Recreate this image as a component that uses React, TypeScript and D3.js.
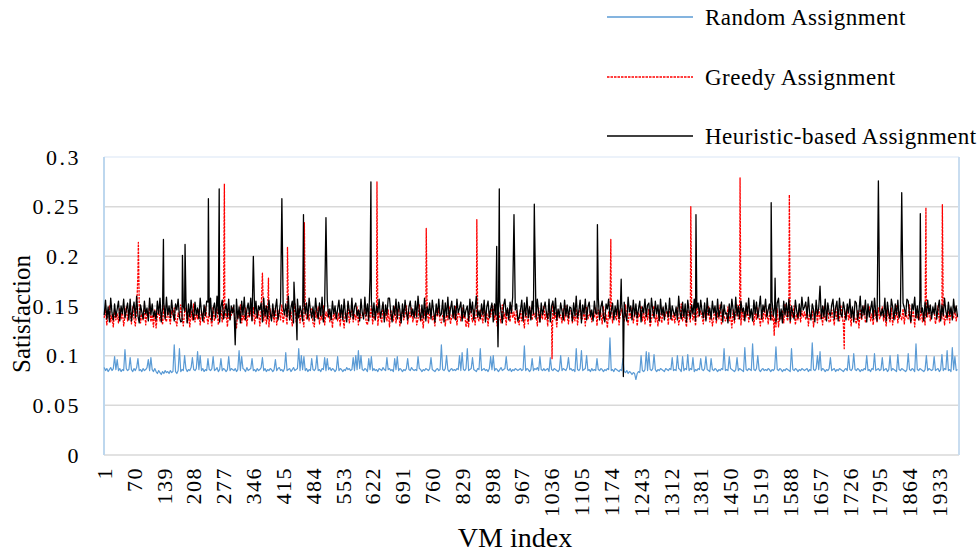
import React from "react";
import * as d3 from "d3";

// ---- categories ----
const VM_COUNT = 1978;
const SAMPLE_STEP = 3; // base samples read at VM 1, 4, 7, ... (values in thousandths)
const xTickLabels = [1, 70, 139, 208, 277, 346, 415, 484, 553, 622, 691, 760, 829, 898, 967, 1036, 1105, 1174, 1243, 1312, 1381, 1450, 1519, 1588, 1657, 1726, 1795, 1864, 1933];
const yTickValues = [0, 0.05, 0.1, 0.15, 0.2, 0.25, 0.3];
const yTickLabels = ["0", "0.05", "0.1", "0.15", "0.2", "0.25", "0.3"];
const seriesNames = ["Random Assignment", "Greedy Assignment", "Heuristic-based Assignment"];

// ---- Random Assignment (satisfaction x 1000) ----
const randomMilli = [
  88,85,87,84,86,88,85,87,99,86, 96,85,87,84,86,85,106,87,85,86,
  98,86,84,87,85,88,97,85,86,84, 87,85,86,88,96,85,98,86,84,87,
  84,82,85,83,81,84,82,85,83,84, 82,85,83,84,111,84,82,85,107,84,
  86,85,100,87,84,86,85,88,98,86, 85,87,104,86,100,85,87,84,86,85,
  97,86,85,87,99,85,86,88,84,86, 97,85,87,86,84,86,99,85,87,86,
  85,87,84,86,105,85,99,87,86,84, 88,85,86,87,97,85,86,84,87,85,
  86,88,98,85,87,84,86,85,87,86, 84,86,96,85,87,88,85,86,84,87,
  103,85,86,87,84,86,88,85,86,87, 107,85,100,86,99,85,87,84,86,85,
  97,86,85,87,100,85,86,84,87,86, 98,85,97,86,88,85,87,86,84,86,
  99,85,87,86,84,86,85,88,86,87, 85,86,98,85,100,86,105,87,100,86,
  85,87,86,84,97,86,99,85,87,85, 86,84,87,86,85,88,86,85,98,86,
  87,85,86,84,97,86,99,85,87,86, 84,86,85,87,97,86,85,88,86,85,
  86,85,99,87,86,84,86,85,87,86, 85,87,98,86,85,84,86,87,85,86,
  111,86,85,87,100,86,84,86,87,85, 86,85,87,86,100,85,103,86,85,87,
  107,85,86,87,98,86,85,84,87,86, 107,85,86,87,85,86,84,87,99,86,
  100,85,87,86,84,86,88,85,86,87, 99,86,85,87,84,86,85,87,86,85,
  86,87,85,86,110,85,87,86,84,86, 97,85,87,86,88,85,99,86,85,87,
  85,86,87,84,98,86,85,87,86,85, 84,86,100,85,87,86,85,88,98,86,
  87,85,86,84,107,86,85,87,105,85, 86,87,100,85,86,84,87,85,86,85,
  97,86,85,87,86,84,86,85,87,86, 118,85,86,84,87,86,85,84,86,85,
  97,84,83,85,82,84,83,81,83,82, 76,82,84,83,100,85,84,86,104,85,
  103,86,85,87,101,86,84,86,85,87, 86,85,84,87,86,85,87,86,98,85,
  86,85,100,87,86,84,99,85,87,86, 101,85,87,86,98,84,86,85,87,86,
  97,86,85,87,99,86,85,84,97,86, 85,87,86,84,86,85,87,86,107,85,
  86,85,99,87,86,85,84,86,98,85, 87,86,85,84,108,86,85,87,86,85,
  112,86,85,87,100,86,84,86,87,85, 86,85,87,86,84,86,85,87,109,86,
  85,87,86,84,86,85,87,86,85,84, 107,86,85,87,86,84,86,85,87,86,
  85,86,87,84,86,85,113,86,85,87, 100,86,104,85,87,86,84,86,85,87,
  98,85,86,87,84,86,85,87,86,85, 84,86,87,85,100,86,85,87,102,86,
  85,87,86,84,86,85,87,86,100,85, 86,84,87,86,102,85,86,87,85,86,
  98,85,86,87,84,86,100,85,87,86, 85,84,101,86,85,87,86,85,84,86,
  102,86,85,87,86,84,112,86,85,87, 86,85,84,86,100,85,87,86,85,86,
  99,85,86,87,84,86,101,85,87,86, 105,85,86,84,108,86,99,85,86,
];

// ---- Greedy Assignment (satisfaction x 1000) ----
const greedyMilli = [
  138,147,131,143,150,134,141,129,146,136, 142,133,148,137,145,130,140,149,135,143,
  144,132,149,137,130,145,139,151,133,142, 136,147,131,144,138,150,134,141,129,146,
  128,140,147,135,143,131,150,137,134,146, 139,132,145,141,148,136,130,143,138,151,
  139,130,144,148,133,141,129,145,136,152, 134,142,137,147,131,145,139,133,149,140,
  132,143,137,130,149,135,142,147,131,140, 146,134,150,138,143,129,145,136,141,148,
  146,134,128,144,138,151,133,141,136,148, 130,143,139,146,135,149,132,142,137,145,
  130,145,139,135,150,132,143,129,147,137, 144,134,148,131,140,146,136,151,133,142,
  142,131,148,136,144,130,140,152,134,139, 147,133,145,138,129,150,137,143,135,146,
  147,133,129,145,138,149,132,141,136,150, 131,144,139,147,134,142,128,146,137,143,
  135,143,130,146,139,128,144,137,151,133, 140,148,134,142,136,149,131,145,138,141,
  140,148,134,131,145,138,150,132,142,136, 147,130,144,139,133,151,137,143,135,146,
  129,146,140,135,149,133,143,147,130,139, 145,136,141,150,132,144,138,148,134,142,
  144,131,137,151,134,141,128,145,138,148, 133,142,147,136,140,130,146,139,149,135,
  133,140,146,130,143,136,149,132,139,145, 137,150,131,144,141,135,148,138,142,129,
  137,129,150,141,134,147,131,144,138,135, 146,140,133,149,136,143,130,145,139,151,
  148,136,142,130,145,139,133,151,137,143, 131,147,140,134,150,138,144,132,146,135,
  131,147,135,140,128,146,138,132,149,141, 136,145,139,143,130,148,134,142,137,150,
  136,144,130,148,139,134,152,137,143,129, 146,138,141,133,147,135,150,140,132,145,
  145,133,140,135,147,131,142,150,136,138, 144,130,149,137,141,146,134,143,139,148,
  130,146,139,143,132,149,135,141,128,144, 137,151,133,145,140,136,148,131,142,147,
  140,134,151,137,131,145,138,148,133,142, 146,130,143,139,150,135,144,132,147,136,
  147,129,136,144,150,134,141,130,146,139, 133,148,137,142,145,131,149,138,135,143,
  133,143,148,131,138,152,135,142,137,129, 146,140,134,147,136,144,130,150,139,141,
  145,139,132,147,136,141,150,134,144,130, 138,148,133,143,137,151,131,146,140,135,
  138,149,135,140,128,146,133,143,151,137, 142,131,147,136,145,139,150,134,141,144,
  142,131,145,136,148,139,130,144,134,150, 137,146,132,141,149,135,143,138,129,147,
  129,141,137,146,133,152,140,135,147,132, 144,138,150,131,142,136,148,134,145,139,
  144,136,150,130,142,138,145,129,141,148, 133,147,137,143,131,149,136,140,146,134,
  134,146,139,131,149,137,143,135,151,140, 132,145,138,148,136,142,130,147,141,137,
  132,145,128,147,136,141,150,133,138,144, 149,135,142,131,146,139,134,148,137,143,
  149,135,142,130,146,139,134,148,131,143, 137,150,133,144,140,136,147,132,145,138,
  137,151,133,140,145,129,147,138,142,136, 148,134,143,131,146,139,150,135,141,144,
  146,132,139,150,134,143,137,148,131,141, 136,145,133,147,140,138,149,135,142,
];
const greedySpikeVM = [79, 80, 279, 367, 381, 425, 464, 632, 746, 863, 1037, 1173, 1358, 1472, 1551, 1586, 1713, 1902, 1940];
const greedySpikeValue = [0.183, 0.214, 0.273, 0.183, 0.178, 0.209, 0.234, 0.275, 0.228, 0.237, 0.097, 0.217, 0.250, 0.279, 0.120, 0.262, 0.107, 0.249, 0.252];

// ---- Heuristic-based Assignment (satisfaction x 1000) ----
const heuristicMilli = [
  141,156,137,149,134,158,143,136,152,139, 147,155,135,150,142,157,138,146,153,136,
  157,135,146,154,138,160,140,133,151,144, 137,155,142,148,135,158,141,152,139,145,
  136,155,142,158,134,148,153,137,159,141, 150,138,156,143,135,152,146,157,139,134,
  135,150,145,157,133,152,139,156,143,136, 154,141,148,137,158,144,135,151,140,155,
  154,140,158,135,147,153,138,160,142,134, 149,156,137,145,152,139,157,136,150,143,
  151,144,157,137,149,133,155,141,159,136, 146,153,140,158,135,148,142,155,138,150,
  146,153,134,158,140,150,137,156,143,135, 152,139,147,157,136,144,154,138,149,141,
  152,139,160,136,148,155,133,154,141,157, 138,150,144,135,156,142,153,137,158,146,
  138,149,135,158,144,137,153,140,159,134, 151,145,156,139,147,136,155,142,150,137,
  147,156,138,151,136,157,142,134,155,145, 139,158,137,149,153,140,146,135,157,143,
  137,159,140,152,135,148,156,139,153,136, 150,143,157,138,145,154,134,151,141,158,
  158,143,134,150,141,157,137,154,146,133, 152,139,156,144,136,149,155,140,147,138,
  155,139,160,144,136,151,138,158,135,149, 142,153,137,156,145,134,152,141,157,140,
  142,156,134,153,140,159,137,147,155,138, 150,136,157,143,148,154,135,151,139,146,
  150,135,157,143,154,136,148,160,139,145, 137,152,141,156,134,149,155,138,147,153,
  134,152,141,158,137,155,144,133,151,157, 140,148,136,154,143,159,138,146,152,135,
  139,146,156,135,153,140,159,138,149,136, 155,142,150,137,157,144,134,153,141,148,
  154,143,137,157,134,150,155,141,158,136, 147,139,153,145,136,156,140,151,138,149,
  148,135,153,140,160,138,145,156,133,151, 142,157,136,149,154,139,146,135,155,143,
  142,158,136,149,155,139,134,152,147,157, 138,145,153,136,150,141,156,137,148,154,
  137,154,141,135,159,144,150,136,156,140, 152,138,147,155,134,149,143,157,139,151,
  153,134,158,146,138,155,142,151,135,157, 141,149,136,153,145,139,158,137,150,144,
  140,149,136,160,143,137,154,139,152,134, 156,145,138,151,142,157,135,148,153,140,
  156,145,138,153,135,158,141,148,137,155, 143,150,136,157,139,146,154,134,151,142,
  143,133,152,139,157,146,136,159,140,150, 137,155,144,148,135,153,141,158,138,147,
  135,156,142,154,138,148,160,137,151,144, 157,139,146,152,136,155,140,149,134,153,
  158,136,147,133,155,141,153,139,157,135, 150,143,137,156,145,138,152,140,159,146,
  149,154,138,159,143,136,152,146,134,156, 141,148,155,137,150,139,157,135,153,144,
  140,151,157,137,148,155,135,158,142,139, 154,146,136,152,143,157,138,149,134,155,
  153,136,145,160,138,150,141,156,134,152, 139,147,155,137,158,143,135,151,146,140,
  147,139,158,135,154,143,137,157,149,136, 152,141,156,138,145,134,153,148,140,157,
  155,141,134,152,146,159,138,150,136,157, 143,148,135,154,139,156,142,151,137,149,
  142,153,137,148,156,135,151,140,158,145, 138,154,141,149,136,157,143,150,139,
];
const heuristicSpikeVM = [138, 182, 188, 242, 267, 304, 346, 412, 440, 447, 462, 514, 616, 618, 909, 912, 915, 949, 996, 997, 1142, 1197, 1202, 1370, 1544, 1553, 1657, 1792, 1846, 1889];
const heuristicSpikeValue = [0.217, 0.201, 0.212, 0.258, 0.268, 0.111, 0.200, 0.258, 0.174, 0.116, 0.242, 0.239, 0.178, 0.275, 0.210, 0.109, 0.268, 0.242, 0.2525, 0.220, 0.232, 0.177, 0.079, 0.242, 0.254, 0.178, 0.170, 0.276, 0.264, 0.243];

type Pt = { vm: number; v: number };

function buildSeries(milli: number[], spikeVM: number[] = [], spikeVal: number[] = []): Pt[] {
  const m = new Map<number, number>();
  milli.forEach((v, i) => m.set(1 + i * SAMPLE_STEP, v / 1000));
  spikeVM.forEach((vm, i) => m.set(vm, spikeVal[i]));
  return Array.from(m.entries())
    .map(([vm, v]) => ({ vm, v }))
    .sort((a, b) => a.vm - b.vm);
}

const W = 980;
const H = 554;
const PL = 104;
const PR = 959;
const PT = 157;
const PB = 455;
const FONT = "'Liberation Serif', 'Times New Roman', Times, serif";

export default function App() {
  const x = d3.scaleLinear().domain([0.5, VM_COUNT + 0.5]).range([PL, PR]);
  const y = d3.scaleLinear().domain([0, 0.3]).range([PB, PT]);
  const line = d3
    .line<Pt>()
    .x((d) => x(d.vm))
    .y((d) => y(d.v));

  const series = [
    { name: seriesNames[0], pts: buildSeries(randomMilli), color: "#5b9bd5", dash: undefined as string | undefined, width: 1.2 },
    { name: seriesNames[1], pts: buildSeries(greedyMilli, greedySpikeVM, greedySpikeValue), color: "#ff0000", dash: "2.5,1" as string | undefined, width: 1.3 },
    { name: seriesNames[2], pts: buildSeries(heuristicMilli, heuristicSpikeVM, heuristicSpikeValue), color: "#000000", dash: undefined as string | undefined, width: 1.3 },
  ];

  const legendY = [17, 77, 136];

  return (
    <svg
      width={W}
      height={H}
      viewBox={`0 0 ${W} ${H}`}
      style={{ position: "absolute", left: 0, top: 0, background: "#fff", fontFamily: FONT }}
    >
      <rect x={0} y={0} width={W} height={H} fill="#fff" />
      {yTickValues.map((t) => (
        <line key={t} x1={PL} x2={PR} y1={y(t)} y2={y(t)} stroke={t === 0.3 ? "#e6eef8" : "#d9d9d9"} strokeWidth={1.5} />
      ))}
      <line x1={PL} x2={PL} y1={PT} y2={PB} stroke="#bdd7ee" strokeWidth={2} />
      <line x1={PR} x2={PR} y1={PT} y2={PB} stroke="#c9ddf0" strokeWidth={2} />

      {series.map((s) => (
        <path
          key={s.name}
          d={line(s.pts) || ""}
          fill="none"
          stroke={s.color}
          strokeWidth={s.width}
          strokeDasharray={s.dash}
          strokeLinejoin="round"
        />
      ))}

      {yTickValues.map((t, i) => (
        <text key={t} x={81} y={y(t)} dy="0.35em" textAnchor="end" fontSize={22} letterSpacing={2.5} fill="#000">
          {yTickLabels[i]}
        </text>
      ))}

      {xTickLabels.map((t) => (
        <text
          key={t}
          transform={`translate(${x(t)},${467}) rotate(-90)`}
          dy="0.35em"
          textAnchor="end"
          fontSize={22}
          letterSpacing={1.5}
          fill="#000"
        >
          {t}
        </text>
      ))}

      <text transform={`translate(${30},${314}) rotate(-90)`} textAnchor="middle" fontSize={25} fill="#000">
        Satisfaction
      </text>
      <text x={515} y={547} textAnchor="middle" fontSize={28} fill="#000">
        VM index
      </text>

      {series.map((s, i) => (
        <g key={s.name}>
          <line x1={607} x2={693} y1={legendY[i]} y2={legendY[i]} stroke={s.color} strokeWidth={1.4} strokeDasharray={s.dash} />
          <text x={705} y={legendY[i] + 8} fontSize={23} letterSpacing={0.5} fill="#000">
            {s.name}
          </text>
        </g>
      ))}
    </svg>
  );
}
